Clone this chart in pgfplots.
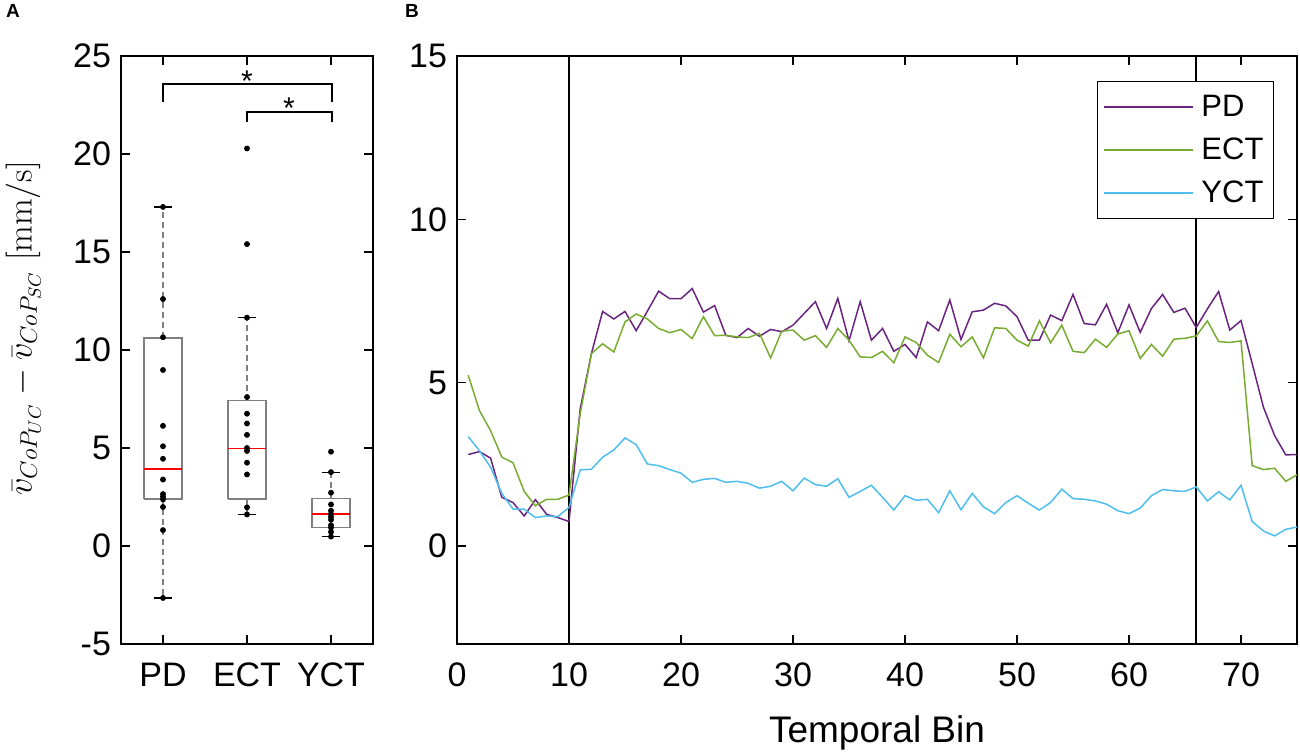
\documentclass[border=0pt]{standalone}
\usepackage[no-math]{fontspec}
\setmainfont{Liberation Sans}
\usepackage{pgfplots}
\usepackage{pgfplotstable}
\pgfplotsset{compat=1.18}
\definecolor{cPD}{HTML}{6A2480}
\definecolor{cECT}{HTML}{77AC30}
\definecolor{cYCT}{HTML}{4DBEEE}
\definecolor{boxgray}{HTML}{808080}

\pgfplotstableread{
x pd ect yct
1 2.80 5.23 3.35
2 2.89 4.15 2.92
3 2.69 3.53 2.41
4 1.49 2.72 1.61
5 1.33 2.55 1.13
6 0.92 1.67 1.13
7 1.42 1.23 0.87
8 0.97 1.43 0.92
9 0.87 1.43 0.90
10 0.75 1.56 1.18
11 4.20 4.05 2.33
12 5.89 5.89 2.35
13 7.18 6.19 2.72
14 6.95 5.94 2.94
15 7.18 6.86 3.31
16 6.59 7.10 3.10
17 7.19 6.95 2.51
18 7.80 6.66 2.46
19 7.57 6.53 2.34
20 7.57 6.63 2.23
21 7.88 6.35 1.95
22 7.16 7.02 2.04
23 7.36 6.44 2.07
24 6.45 6.45 1.95
25 6.38 6.40 1.98
26 6.66 6.38 1.92
27 6.42 6.51 1.77
28 6.63 5.76 1.83
29 6.56 6.58 1.98
30 6.76 6.61 1.69
31 7.12 6.30 2.08
32 7.48 6.44 1.88
33 6.66 6.08 1.83
34 7.58 6.66 2.06
35 6.28 6.30 1.49
36 7.48 5.79 1.67
37 6.30 5.77 1.86
38 6.66 5.96 1.49
39 5.96 5.61 1.10
40 6.17 6.40 1.54
41 5.77 6.23 1.40
42 6.86 5.84 1.43
43 6.59 5.62 1.02
44 7.53 6.48 1.69
45 6.32 6.10 1.11
46 7.17 6.40 1.61
47 7.22 5.76 1.20
48 7.43 6.68 0.99
49 7.35 6.66 1.33
50 7.02 6.30 1.54
51 6.30 6.12 1.31
52 6.30 6.89 1.10
53 7.07 6.22 1.33
54 6.90 6.76 1.74
55 7.70 5.96 1.45
56 6.81 5.92 1.43
57 6.77 6.33 1.38
58 7.40 6.08 1.28
59 6.53 6.49 1.08
60 7.38 6.59 0.99
61 6.54 5.74 1.16
62 7.27 6.17 1.54
63 7.70 5.81 1.73
64 7.15 6.33 1.69
65 7.28 6.36 1.67
66 6.69 6.43 1.81
67 7.26 6.89 1.38
68 7.79 6.26 1.66
69 6.61 6.23 1.41
70 6.90 6.28 1.86
71 5.58 2.46 0.75
72 4.25 2.34 0.46
73 3.38 2.38 0.31
74 2.79 1.98 0.51
75 2.80 2.18 0.58
}\bintab

\begin{document}
\begin{tikzpicture}
\useasboundingbox (0,0) rectangle (650pt,375.5pt);
\pgfplotsset{
  myaxis/.style={
    scale only axis,
    anchor=south west,
    height=294pt,
    axis line style={line width=0.8pt, black},
    every tick/.style={line width=0.8pt, black},
    tick align=inside,
    major tick length=4.5pt,
    ticklabel style={font=\fontsize{17}{20}\selectfont},
    /pgf/number format/assume math mode=true,
    xticklabel style={yshift=-6pt},
    yticklabel style={xshift=-1.5pt},
    label style={font=\fontsize{18.5}{22}\selectfont},
  }
}
\node[font=\bfseries\fontsize{9.5}{11}\selectfont] at (6.5pt,370pt) {A};
\node[font=\bfseries\fontsize{9.5}{11}\selectfont] at (206pt,370pt) {B};

% ---------------- Panel A ----------------
\begin{axis}[myaxis,
  at={(60.5pt,53.5pt)}, width=126pt,
  xmin=0.5, xmax=3.5, ymin=-5, ymax=25,
  xtick={1,2,3}, xticklabels={PD,ECT,YCT},
  ytick={-5,0,5,10,15,20,25},
  ylabel={$\bar{v}_{CoP_{UC}}-\bar{v}_{CoP_{SC}}\ \mathrm{[mm/s]}$},
  ylabel style={at={(axis description cs:-0.388,0.537)}, anchor=center, inner sep=0pt, font=\fontsize{17.5}{20}\selectfont},
]
% whiskers
\addplot[boxgray, line width=0.6pt, dash pattern=on 3pt off 2pt] coordinates {(1,10.62) (1,17.3)};
\addplot[boxgray, line width=0.6pt, dash pattern=on 3pt off 2pt] coordinates {(1,2.40) (1,-2.65)};
\addplot[boxgray, line width=0.6pt, dash pattern=on 3pt off 2pt] coordinates {(2,7.41) (2,11.65)};
\addplot[boxgray, line width=0.6pt, dash pattern=on 3pt off 2pt] coordinates {(2,2.40) (2,1.61)};
\addplot[boxgray, line width=0.6pt, dash pattern=on 3pt off 2pt] coordinates {(3,2.43) (3,3.77)};
\addplot[boxgray, line width=0.6pt, dash pattern=on 3pt off 2pt] coordinates {(3,0.94) (3,0.48)};
% caps
\addplot[black, line width=0.6pt] coordinates {(0.89,17.3) (1.11,17.3)};
\addplot[black, line width=0.6pt] coordinates {(0.89,-2.65) (1.11,-2.65)};
\addplot[black, line width=0.6pt] coordinates {(1.89,11.65) (2.11,11.65)};
\addplot[black, line width=0.6pt] coordinates {(1.89,1.61) (2.11,1.61)};
\addplot[black, line width=0.6pt] coordinates {(2.89,3.77) (3.11,3.77)};
\addplot[black, line width=0.6pt] coordinates {(2.89,0.48) (3.11,0.48)};
% boxes
\addplot[boxgray, line width=0.7pt, line join=miter] coordinates {(0.772,2.40) (1.228,2.40) (1.228,10.62) (0.772,10.62) (0.772,2.40)};
\addplot[boxgray, line width=0.7pt, line join=miter] coordinates {(1.772,2.40) (2.228,2.40) (2.228,7.41) (1.772,7.41) (1.772,2.40)};
\addplot[boxgray, line width=0.7pt, line join=miter] coordinates {(2.772,0.94) (3.228,0.94) (3.228,2.43) (2.772,2.43) (2.772,0.94)};
% medians
\addplot[red, line width=0.8pt] coordinates {(0.772,3.92) (1.228,3.92)};
\addplot[red, line width=0.8pt] coordinates {(1.772,4.97) (2.228,4.97)};
\addplot[red, line width=0.8pt] coordinates {(2.772,1.63) (3.228,1.63)};
% points
\addplot[only marks, mark=*, mark size=1.25pt, black] coordinates {
 (1,17.3) (1,12.6) (1,10.65) (1,8.98) (1,6.13) (1,5.09) (1,4.45) (1,3.39)
 (1,2.65) (1,2.52) (1,2.38) (1,1.99) (1,0.81) (1,-2.65)};
\addplot[only marks, mark=*, mark size=1.25pt, black] coordinates {
 (2,20.28) (2,15.40) (2,11.65) (2,7.60) (2,6.75) (2,6.25) (2,5.67) (2,5.0)
 (2,4.85) (2,4.25) (2,3.65) (2,1.97) (2,1.61)};
\addplot[only marks, mark=*, mark size=1.25pt, black] coordinates {
 (3,4.81) (3,3.77) (3,2.72) (3,2.12) (3,1.80) (3,1.63) (3,1.49) (3,1.34)
 (3,1.06) (3,0.94) (3,0.72) (3,0.48)};
% significance brackets
\addplot[black, line width=1pt] coordinates {(1,22.67) (1,23.57) (3.01,23.57) (3.01,22.67)};
\addplot[black, line width=1pt] coordinates {(2,21.62) (2,22.13) (3.01,22.13) (3.01,21.62)};
\node[font=\fontsize{15}{15}\selectfont, anchor=center, yshift=-3pt] at (axis cs:2,24.03) {*};
\node[font=\fontsize{15}{15}\selectfont, anchor=center, yshift=-3pt] at (axis cs:2.5,22.62) {*};
\end{axis}

% ---------------- Panel B ----------------
\begin{axis}[myaxis,
  at={(228.5pt,53.5pt)}, width=420pt,
  xmin=0, xmax=75, ymin=-3, ymax=15,
  xtick={0,10,...,70}, ytick={0,5,10,15},
  xlabel={Temporal Bin},
  xlabel style={at={(axis description cs:0.5,0)}, anchor=base, yshift=-49.3pt},
  legend cell align=left,
  legend image code/.code={\draw[#1, line width=0.8pt] (0pt,0pt) -- (44.5pt,0pt);
     \path[draw=none, fill=none] (0pt,-10.75pt) rectangle (46.7pt,10.75pt);},
  legend style={at={(axis description cs:0.9726,0.9575)}, anchor=north east,
    draw=black, line width=0.5pt, inner xsep=3pt, inner ysep=2pt,
    font=\fontsize{15.5}{18}\selectfont},
]
\addplot[black, line width=0.8pt, forget plot] coordinates {(10,-3) (10,15)};
\addplot[black, line width=0.8pt, forget plot] coordinates {(66,-3) (66,15)};
\addplot[cPD, line width=0.75pt] table[x=x, y=pd] {\bintab};
\addplot[cECT, line width=0.75pt] table[x=x, y=ect] {\bintab};
\addplot[cYCT, line width=0.75pt] table[x=x, y=yct] {\bintab};
\legend{PD,ECT,YCT}
\end{axis}
\end{tikzpicture}
\end{document}
